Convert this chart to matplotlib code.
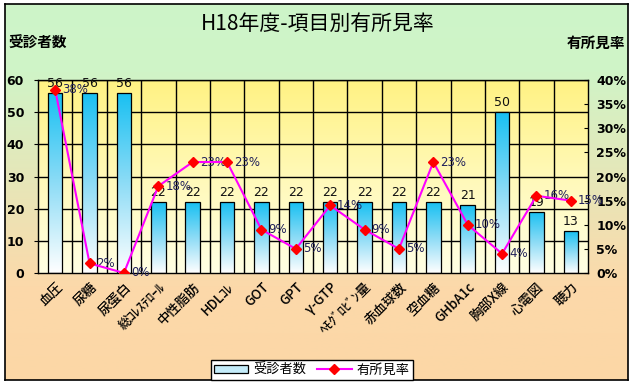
import matplotlib.pyplot as plt
import matplotlib.patches as mpatches
from matplotlib.lines import Line2D
from matplotlib.colors import LinearSegmentedColormap
import numpy as np

plt.rcParams['font.family'] = ['Noto Sans CJK JP', 'DejaVu Sans']

# データ
items = ['血圧', '尿糖', '尿蛋白', '総ｺﾚｽﾃﾛｰﾙ', '中性脂肪', 'HDLｺﾚ', 'GOT', 'GPT',
         'γ-GTP', 'ﾍﾓｸﾞﾛﾋﾞﾝ量', '赤血球数', '空血糖', 'GHbA1c', '胸部X線', '心電図', '聴力']
patients = [56, 56, 56, 22, 22, 22, 22, 22, 22, 22, 22, 22, 21, 50, 19, 13]
rate = [0.38, 0.02, 0.0, 0.18, 0.23, 0.23, 0.09, 0.05, 0.14, 0.09, 0.05, 0.23,
        0.10, 0.04, 0.16, 0.15]
left_ticks = [0, 10, 20, 30, 40, 50, 60]
right_ticks = [0, 0.05, 0.10, 0.15, 0.20, 0.25, 0.30, 0.35, 0.40]

W, H = 635, 385
fig = plt.figure(figsize=(W / 100, H / 100), dpi=100)
fig.patch.set_facecolor('white')
grad = np.linspace(0, 1, 256).reshape(-1, 1)

# 外枠の背景 (緑 -> 薄橙)
bg = fig.add_axes([5 / W, 1 - 380 / H, 623 / W, 376 / H])
bg_cmap = LinearSegmentedColormap.from_list(
    'bg', [(0, '#cdf5c9'), (0.18, '#d0f4c7'), (0.75, '#fcd9aa'), (1, '#fcd7a6')])
bg.imshow(grad, aspect='auto', cmap=bg_cmap, extent=(0, 1, 0, 1), origin='upper')
bg.set_xticks([])
bg.set_yticks([])
for s in bg.spines.values():
    s.set_linewidth(1.2)
    s.set_color('black')

ax = fig.add_axes([38 / W, 1 - 273 / H, 550 / W, 193 / H])
ax.set_zorder(2)
x = np.arange(len(items))
n = len(items)

# プロットエリアの背景 (黄色グラデーション)
pa_cmap = LinearSegmentedColormap.from_list('pa', ['#fff283', '#fff9b8', '#ffffe4'])
ax.imshow(grad, aspect='auto', cmap=pa_cmap, extent=(-0.5, n - 0.5, 0, 60),
          origin='upper', zorder=0)

for v in left_ticks[1:]:
    ax.axhline(v, color='black', lw=1.0, zorder=1)
for b in np.arange(0.5, n - 0.5, 1):
    ax.axvline(b, color='black', lw=1.0, zorder=1)

# 棒 (青 -> 白 グラデーション)
bars = ax.bar(x, patients, width=0.42, facecolor='none', edgecolor='black',
              lw=0.9, zorder=3)
bar_cmap = LinearSegmentedColormap.from_list('bar', ['#18c0f2', '#8ddcf6', '#ffffff'])
for b in bars:
    x0, y0 = b.get_x(), b.get_y()
    im = ax.imshow(grad, aspect='auto', cmap=bar_cmap,
                   extent=(x0, x0 + b.get_width(), y0, y0 + b.get_height()),
                   origin='upper', zorder=2)
    im.set_clip_path(b)
ax.set_xlim(-0.5, n - 0.5)
ax.set_ylim(0, 60)

for xi, v in zip(x, patients):
    ax.text(xi, v + 1.0, str(v), ha='center', va='bottom', fontsize=9,
            family=['DejaVu Sans'], color='#111111', zorder=6)

ax.set_yticks(left_ticks)
ax.set_yticklabels([str(t) for t in left_ticks], fontsize=9, fontweight='bold',
                   family=['DejaVu Sans'])
ax.tick_params(axis='y', length=3, pad=7)
ax.set_xticks(x)
ax.set_xticklabels(items, rotation=45, ha='right', rotation_mode='anchor',
                   fontsize=9.5, fontweight='medium')
ax.tick_params(axis='x', length=0, pad=5)
for s in ax.spines.values():
    s.set_color('black')
    s.set_linewidth(1.0)

# 有所見率 (右軸)
ax2 = ax.twinx()
ax2.set_zorder(3)
ax2.patch.set_visible(False)
ax2.set_ylim(0, 0.40)
ax2.plot(x, rate, color='#ff00ff', lw=1.5, marker='D', markersize=5,
         markerfacecolor='#ff0000', markeredgecolor='#ff0000', zorder=5)
for xi, r in zip(x, rate):
    ax2.annotate(f'{round(r * 100):d}%', (xi, r), xytext=(5, 0),
                 textcoords='offset points', ha='left', va='center', fontsize=8.5,
                 family=['DejaVu Sans'], color='#20205a')
ax2.set_yticks(right_ticks)
ax2.set_yticklabels([f'{round(t * 100):d}%' for t in right_ticks], fontsize=9,
                    fontweight='bold', family=['DejaVu Sans'])
ax2.tick_params(axis='y', length=3, direction='in', pad=6)
for s in ax2.spines.values():
    s.set_visible(False)

# タイトル等
fig.text(0.5, 1 - 24 / H, 'H18年度-項目別有所見率', ha='center', va='center',
         fontsize=15)
fig.text(8 / W, 1 - 43 / H, '受診者数', ha='left', va='center', fontsize=10.5,
         fontweight='bold')
fig.text(625 / W, 1 - 43 / H, '有所見率', ha='right', va='center', fontsize=10.5,
         fontweight='bold')

handles = [mpatches.Patch(facecolor='#c4ecfa', edgecolor='black', lw=0.9),
           Line2D([0], [0], color='#ff00ff', lw=1.5, marker='D', markersize=5,
                  markerfacecolor='#ff0000', markeredgecolor='#ff0000')]
leg = fig.legend(handles, ['受診者数', '有所見率'], loc='center',
                 bbox_to_anchor=(312 / W, 1 - 370 / H), ncol=2, fontsize=9.5,
                 frameon=True, fancybox=False, framealpha=1, edgecolor='black',
                 handlelength=2.6, handleheight=0.6, columnspacing=0.8,
                 handletextpad=0.4, borderpad=0.25)
leg.get_frame().set_linewidth(1.0)

fig.savefig('out.png', dpi=100)
